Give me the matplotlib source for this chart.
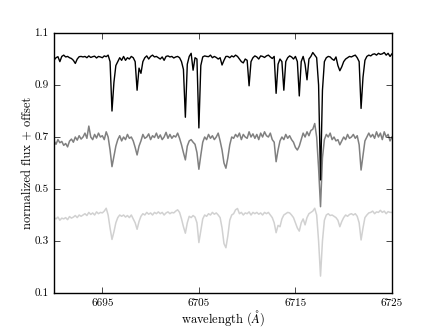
import numpy as np
import matplotlib
matplotlib.use('Agg')
import matplotlib.pyplot as plt

# wavelength grid: 6690.0 to 6725.0 in 0.2 A steps (5 samples per row below)
wave_start = 6690.0
wave_step = 0.2

# top spectrum (black), normalized flux
flux_black = [
    0.996, 1.005, 1.009, 0.990, 1.010,
    1.015, 1.008, 1.010, 1.005, 1.002,
    0.995, 0.983, 1.000, 1.009, 1.010,
    1.008, 1.010, 1.005, 1.012, 1.006,
    1.009, 1.011, 1.004, 1.010, 1.008,
    1.005, 1.012, 1.009, 1.015, 0.990,
    0.800, 0.910, 0.975, 0.990, 1.005,
    0.995, 1.010, 0.995, 1.005, 1.000,
    1.010, 1.005, 0.990, 0.880, 0.965,
    0.945, 0.990, 1.005, 1.012, 1.000,
    1.010, 1.015, 1.008, 1.010, 1.005,
    1.000, 1.008, 0.995, 1.010, 1.012,
    1.008, 1.010, 1.004, 1.008, 1.010,
    1.005, 0.990, 0.960, 0.776, 0.980,
    1.010, 1.022, 0.957, 1.005, 1.000,
    0.735, 0.975, 1.008, 1.012, 1.010,
    1.009, 1.015, 1.005, 1.010, 1.006,
    1.000, 1.005, 0.977, 0.995, 1.010,
    1.010, 1.005, 1.012, 1.008, 1.015,
    1.010, 1.000, 0.990, 0.985, 1.000,
    0.995, 0.897, 0.990, 1.005, 1.012,
    1.008, 1.000, 1.012, 1.010, 1.006,
    1.012, 1.015, 1.008, 1.002, 1.010,
    0.868, 0.980, 1.000, 0.990, 0.880,
    0.990, 1.005, 1.012, 1.008, 1.000,
    1.010, 0.990, 0.858, 0.990, 1.010,
    0.980, 0.920, 1.000, 1.010, 1.025,
    1.015, 1.005, 0.900, 0.535, 0.880,
    0.990, 1.005, 1.010, 1.008, 1.000,
    0.995, 1.008, 0.975, 0.955, 0.970,
    0.990, 1.000, 1.005, 1.010, 1.008,
    1.012, 1.015, 1.005, 0.990, 0.810,
    0.930, 0.995, 1.010, 1.015, 1.012,
    1.018, 1.020, 1.015, 1.022, 1.018,
    1.020, 1.025, 1.015, 1.022, 1.010,
    1.020,
]

# middle spectrum (dark grey), flux + offset
flux_mid = [
    0.685, 0.672, 0.690, 0.678, 0.683,
    0.668, 0.675, 0.662, 0.684, 0.692,
    0.680, 0.700, 0.688, 0.705, 0.692,
    0.700, 0.715, 0.695, 0.742, 0.700,
    0.690, 0.710, 0.696, 0.715, 0.700,
    0.705, 0.690, 0.720, 0.700, 0.650,
    0.586, 0.625, 0.665, 0.690, 0.705,
    0.685, 0.700, 0.690, 0.710, 0.695,
    0.700, 0.685, 0.660, 0.631, 0.665,
    0.685, 0.710, 0.695, 0.700, 0.712,
    0.690, 0.705, 0.698, 0.715, 0.695,
    0.708, 0.690, 0.700, 0.718, 0.695,
    0.710, 0.695, 0.705, 0.700, 0.715,
    0.695, 0.670, 0.640, 0.612, 0.665,
    0.685, 0.690, 0.680, 0.672, 0.640,
    0.576, 0.630, 0.680, 0.700, 0.690,
    0.710, 0.695, 0.705, 0.690, 0.700,
    0.715, 0.685, 0.650, 0.600, 0.580,
    0.620, 0.670, 0.700, 0.695, 0.710,
    0.700, 0.715, 0.690, 0.710, 0.700,
    0.695, 0.720, 0.700, 0.712, 0.695,
    0.710, 0.690, 0.715, 0.700, 0.720,
    0.705, 0.700, 0.715, 0.690, 0.680,
    0.605, 0.650, 0.685, 0.700, 0.690,
    0.710, 0.695, 0.705, 0.690, 0.680,
    0.660, 0.650, 0.665, 0.690, 0.715,
    0.700, 0.720, 0.705, 0.725, 0.730,
    0.752, 0.700, 0.580, 0.432, 0.620,
    0.690, 0.710, 0.700, 0.715, 0.690,
    0.700, 0.685, 0.690, 0.670, 0.685,
    0.700, 0.690, 0.710, 0.695, 0.700,
    0.710, 0.695, 0.705, 0.670, 0.573,
    0.630, 0.685, 0.700, 0.715, 0.700,
    0.710, 0.695, 0.720, 0.700, 0.715,
    0.690, 0.720, 0.700, 0.710, 0.685,
    0.700,
]

# bottom spectrum (light grey), flux + offset
flux_low = [
    0.390, 0.385, 0.392, 0.380, 0.388,
    0.385, 0.390, 0.382, 0.394, 0.388,
    0.392, 0.398, 0.390, 0.400, 0.395,
    0.400, 0.405, 0.398, 0.410, 0.402,
    0.408, 0.400, 0.412, 0.405, 0.410,
    0.408, 0.415, 0.426, 0.400, 0.350,
    0.306, 0.335, 0.370, 0.390, 0.400,
    0.395, 0.400, 0.392, 0.398, 0.390,
    0.400, 0.385, 0.370, 0.345, 0.375,
    0.395, 0.405, 0.400, 0.410, 0.403,
    0.408, 0.400, 0.410, 0.405, 0.412,
    0.405, 0.410, 0.400, 0.408, 0.412,
    0.405, 0.410, 0.408, 0.415, 0.420,
    0.410, 0.385, 0.355, 0.330, 0.370,
    0.395, 0.390, 0.398, 0.392, 0.370,
    0.294, 0.340, 0.385, 0.400, 0.395,
    0.405, 0.400, 0.410, 0.403, 0.408,
    0.400, 0.390, 0.350, 0.290, 0.274,
    0.320, 0.380, 0.400, 0.405, 0.420,
    0.425, 0.405, 0.410, 0.400, 0.408,
    0.405, 0.412, 0.400, 0.410, 0.405,
    0.410, 0.403, 0.408, 0.400, 0.410,
    0.405, 0.410, 0.400, 0.390, 0.370,
    0.332, 0.360, 0.355, 0.385, 0.400,
    0.405, 0.410, 0.408, 0.400, 0.390,
    0.370, 0.350, 0.338, 0.370, 0.385,
    0.362, 0.390, 0.405, 0.410, 0.415,
    0.426, 0.400, 0.300, 0.165, 0.300,
    0.380, 0.400, 0.405, 0.398, 0.400,
    0.395, 0.390, 0.380, 0.355, 0.375,
    0.390, 0.400, 0.395, 0.402, 0.405,
    0.400, 0.405, 0.395, 0.370, 0.304,
    0.350, 0.390, 0.400, 0.408, 0.410,
    0.415, 0.405, 0.412, 0.410, 0.418,
    0.410, 0.415, 0.405, 0.413, 0.410,
    0.410,
]

x_ticks = [6695, 6705, 6715, 6725]
y_ticks = [0.1, 0.3, 0.5, 0.7, 0.9, 1.1]

plt.style.use('classic')
plt.rcParams['font.family'] = 'serif'
plt.rcParams['font.serif'] = ['cmr10']
plt.rcParams['mathtext.fontset'] = 'cm'
plt.rcParams['axes.formatter.use_mathtext'] = True

wave = wave_start + wave_step * np.arange(len(flux_black))

fig = plt.figure(figsize=(4.36, 3.27), dpi=100)
fig.patch.set_facecolor('white')
ax = fig.add_axes([0.124, 0.104, 0.775, 0.795])

ax.plot(wave, flux_low, color='0.82', lw=1.1)
ax.plot(wave, flux_mid, color='0.5', lw=1.1)
ax.plot(wave, flux_black, color='black', lw=1.0)

ax.set_xlim(6690, 6725)
ax.set_ylim(0.1, 1.1)
ax.set_xticks(x_ticks)
ax.set_yticks(y_ticks)
ax.set_xticklabels([str(t) for t in x_ticks])
ax.set_yticklabels(['%.1f' % t for t in y_ticks])
ax.tick_params(labelsize=8, length=4, direction='in', top=True, right=True, pad=4)
ax.set_xlabel(r'wavelength ($\AA$)', fontsize=9)
ax.set_ylabel('normalized flux + offset', fontsize=9)
ax.xaxis.set_label_coords(0.5, -0.059)
ax.yaxis.set_label_coords(-0.06, 0.5)

fig.savefig('out.png', dpi=100, facecolor='white')
